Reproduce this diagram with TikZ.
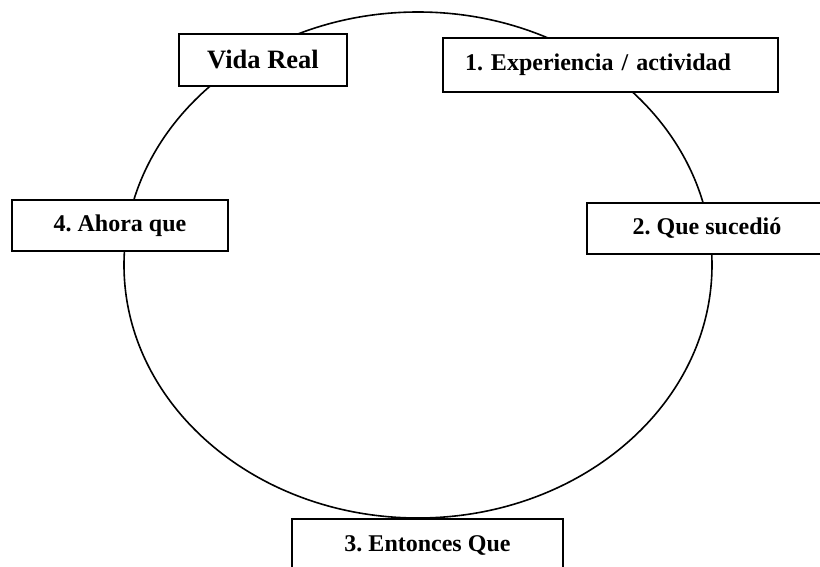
\documentclass[tikz,border=0pt]{standalone}
\usepackage{fontspec}
\setmainfont{Liberation Serif}
\usetikzlibrary{shapes.geometric}
\frenchspacing

\begin{document}
\begin{tikzpicture}[
    x=1pt, y=-1pt,
    loop/.style={draw, ellipse, line width=1.6pt, inner sep=0pt, minimum width=588pt, minimum height=506pt},
    box/.style={draw, fill=white, line width=2pt, inner sep=0pt, align=center, font=\fontsize{24}{28}\selectfont\bfseries},
    leftbox/.style={box, align=left, inner xsep=22pt, text width=291pt, minimum height=54pt}
  ]

  % page size of the original
  \useasboundingbox (0,0) rectangle (820,567);

  % the cycle itself
  \node[loop] (cycle) at (418,265) {};

  % the stages, drawn over the cycle
  \node[box, minimum width=168pt, minimum height=52pt, font=\fontsize{26.5}{30}\selectfont\bfseries] (vida) at (263,60) {Vida Real};
  \node[leftbox] (experiencia) at (610.5,65) {1. Experiencia / actividad};
  \node[box, minimum width=240pt, minimum height=51pt] (sucedio) at (707,228.5) {2. Que sucedió};
  \node[box, minimum width=271pt, minimum height=52pt] (entonces) at (427.5,545) {3. Entonces Que};
  \node[box, minimum width=216pt, minimum height=51pt] (ahora) at (120,225.5) {4. Ahora que};

\end{tikzpicture}
\end{document}
